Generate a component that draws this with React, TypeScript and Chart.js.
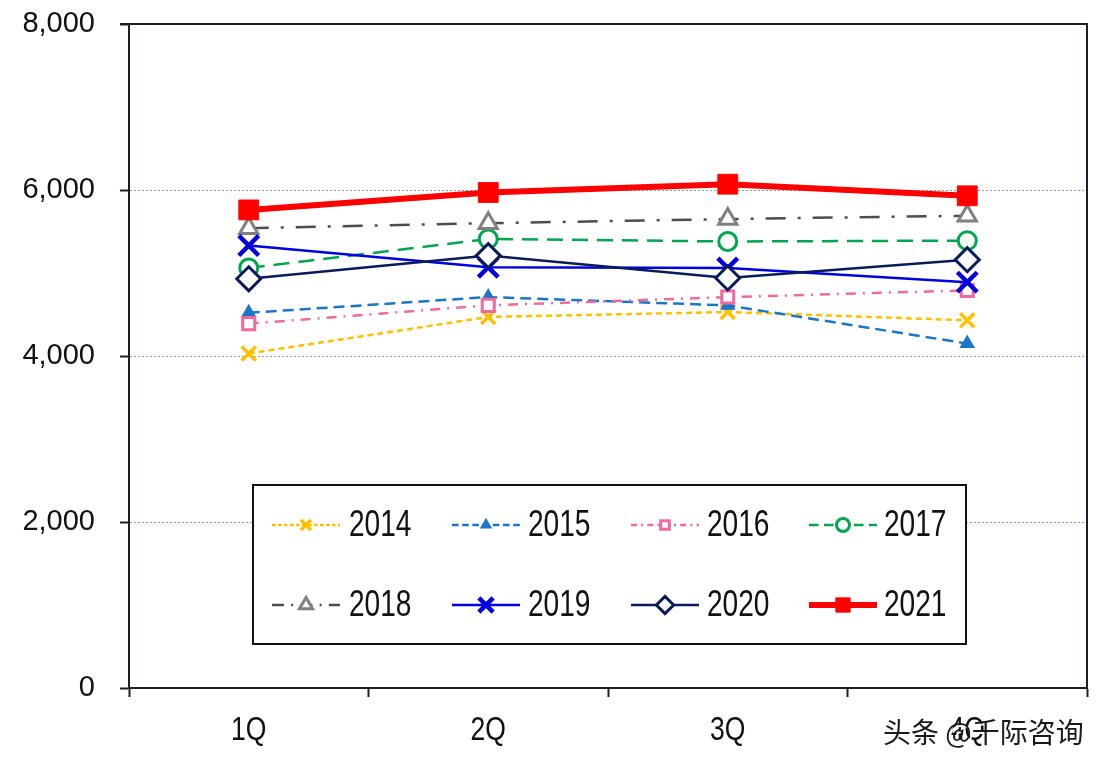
import React, { useEffect, useRef } from 'react';
import { Chart, registerables } from 'chart.js';
import { drawPoint } from 'chart.js/helpers';

Chart.register(...registerables);

const quarters = ['1Q', '2Q', '3Q', '4Q'];
const yMin = 0;
const yMax = 8000;
const yStep = 2000;

const s2014 = [4030, 4470, 4530, 4430];
const s2015 = [4520, 4710, 4610, 4150];
const s2016 = [4390, 4610, 4710, 4790];
const s2017 = [5060, 5410, 5380, 5390];
const s2018 = [5540, 5600, 5650, 5690];
const s2019 = [5330, 5070, 5060, 4890];
const s2020 = [4930, 5210, 4940, 5160];
const s2021 = [5760, 5970, 6070, 5930];

const years = ['2014', '2015', '2016', '2017', '2018', '2019', '2020', '2021'];
const seriesData = [s2014, s2015, s2016, s2017, s2018, s2019, s2020, s2021];

const watermark = '头条 @千际咨询';

type Style = {
  line: string; marker: string; fill: string; width: number; dash: number[];
  point: string; r: number; pw: number;
};

const styles: Style[] = [
  { line: '#FFC000', marker: '#FFC000', fill: '#FFC000', width: 2.5, dash: [6, 4], point: 'crossRot', r: 10, pw: 3.5 },
  { line: '#1B75C9', marker: '#1B75C9', fill: '#1B75C9', width: 2.5, dash: [11, 6], point: 'triangle', r: 6.5, pw: 2.5 },
  { line: '#F0699F', marker: '#F0699F', fill: '#ffffff', width: 2.5, dash: [10, 7, 2, 7], point: 'rect', r: 8.5, pw: 3 },
  { line: '#00A550', marker: '#00A550', fill: '#ffffff', width: 2.5, dash: [16, 9], point: 'circle', r: 9, pw: 3 },
  { line: '#4D4D4D', marker: '#808080', fill: '#ffffff', width: 2.5, dash: [20, 12, 3, 12], point: 'triangle', r: 10.5, pw: 3 },
  { line: '#0000E0', marker: '#0000E0', fill: '#0000E0', width: 2.5, dash: [], point: 'crossRot', r: 14, pw: 4.5 },
  { line: '#0A1B5A', marker: '#0A1B5A', fill: '#ffffff', width: 2.5, dash: [], point: 'rectRot', r: 12, pw: 3 },
  { line: '#FF0000', marker: '#FF0000', fill: '#FF0000', width: 6, dash: [], point: 'rect', r: 14, pw: 1 },
];

const AXIS = '#1e1e28';
const SANS = '"Liberation Sans", Arial, sans-serif';
const NARROW_X = 0.78;

function narrowText(ctx: any, text: string, x: number, y: number, size: number, align: 'left' | 'center') {
  ctx.save();
  ctx.font = `${size}px ${SANS}`;
  ctx.textBaseline = 'middle';
  ctx.textAlign = align;
  ctx.fillStyle = '#111';
  ctx.translate(x, y);
  ctx.scale(NARROW_X, 1);
  ctx.fillText(text, 0, 0);
  ctx.restore();
}

const frame = {
  id: 'frame',
  beforeDatasetsDraw(chart: any) {
    const { ctx, chartArea: a } = chart;
    ctx.save();
    ctx.strokeStyle = AXIS;
    ctx.lineWidth = 2;
    ctx.beginPath();
    ctx.moveTo(a.left - 9, a.top);
    ctx.lineTo(a.right, a.top);
    ctx.lineTo(a.right, a.bottom);
    ctx.stroke();
    ctx.restore();
    const xs = chart.scales.x;
    quarters.forEach((q, i) => {
      narrowText(ctx, q, xs.getPixelForValue(i), a.bottom + 43, 34, 'center');
    });
  },
};

const legendBox = {
  id: 'legendBox',
  afterDatasetsDraw(chart: any) {
    const { ctx } = chart;
    const box = { l: 253, t: 485, r: 966, b: 644 };
    ctx.save();
    ctx.fillStyle = '#ffffff';
    ctx.fillRect(box.l, box.t, box.r - box.l, box.b - box.t);
    ctx.strokeStyle = '#111';
    ctx.lineWidth = 2;
    ctx.strokeRect(box.l, box.t, box.r - box.l, box.b - box.t);
    const colX = [272, 452, 631, 809];
    const textX = [349, 528, 707, 884];
    const rowY = [525, 605];
    const sampleLen = 68;
    years.forEach((y, i) => {
      const s = styles[i];
      const cx = colX[i % 4];
      const cy = rowY[Math.floor(i / 4)];
      ctx.save();
      ctx.strokeStyle = s.line;
      ctx.lineWidth = s.width;
      ctx.setLineDash(s.dash.length ? s.dash.map((d) => Math.max(2, d * 0.6)) : []);
      ctx.beginPath();
      ctx.moveTo(cx, cy);
      ctx.lineTo(cx + sampleLen, cy);
      ctx.stroke();
      ctx.setLineDash([]);
      ctx.strokeStyle = s.marker;
      ctx.fillStyle = s.fill;
      ctx.lineWidth = s.pw;
      drawPoint(ctx, { pointStyle: s.point, radius: s.r * 0.72, rotation: 0, borderWidth: s.pw }, cx + sampleLen / 2, cy);
      ctx.restore();
      narrowText(ctx, y, textX[i % 4], cy + 1, 36, 'left');
    });
    ctx.restore();
  },
  afterDraw(chart: any) {
    const { ctx } = chart;
    ctx.save();
    ctx.font = '28px "Noto Sans CJK SC", sans-serif';
    ctx.textBaseline = 'alphabetic';
    ctx.textAlign = 'left';
    ctx.fillStyle = '#ffffff';
    ctx.fillText(watermark, 885, 745);
    ctx.fillStyle = '#1a1a1a';
    ctx.fillText(watermark, 883, 743);
    ctx.restore();
  },
};

export default function App() {
  const ref = useRef<HTMLCanvasElement | null>(null);
  useEffect(() => {
    document.body.style.margin = '0';
    const canvas = ref.current!;
    const chart = new Chart(canvas, {
      type: 'line',
      data: {
        labels: quarters,
        datasets: years.map((y, i) => ({
          label: y,
          data: seriesData[i],
          borderColor: styles[i].line,
          borderWidth: styles[i].width,
          borderDash: styles[i].dash,
          pointStyle: styles[i].point as any,
          pointRadius: styles[i].r,
          pointHoverRadius: styles[i].r,
          pointBorderColor: styles[i].marker,
          pointBackgroundColor: styles[i].fill,
          pointBorderWidth: styles[i].pw,
          tension: 0,
          fill: false,
          order: 7 - i,
          clip: false as any,
        })),
      },
      options: {
        animation: false,
        responsive: false,
        events: [],
        layout: { padding: { left: 0, top: 24, right: 21, bottom: 0 } },
        plugins: { legend: { display: false }, tooltip: { enabled: false } },
        scales: {
          x: {
            type: 'category',
            offset: true,
            afterFit: (s: any) => { s.height = 80; s.paddingLeft = 0; s.paddingRight = 0; },
            grid: {
              offset: true,
              drawOnChartArea: false,
              drawTicks: true,
              tickLength: 9,
              tickColor: AXIS,
              tickWidth: 2,
              color: AXIS,
            },
            border: { color: AXIS, width: 2 },
            ticks: {
              color: 'rgba(0,0,0,0)',
              padding: 16,
              font: { family: SANS, size: 34 },
              maxRotation: 0,
            },
          },
          y: {
            min: yMin,
            max: yMax,
            afterFit: (s: any) => { s.width = 129; s.paddingTop = 0; s.paddingBottom = 0; },
            grid: {
              color: (c: any) => (c.tick && (c.tick.value === yMin || c.tick.value === yMax) ? 'rgba(0,0,0,0)' : '#9a9a9a'),
              lineWidth: 1,
              drawTicks: true,
              tickLength: 9,
              tickColor: AXIS,
              tickWidth: 2,
            },
            border: { color: AXIS, width: 2, dash: [2, 2] },
            ticks: {
              stepSize: yStep,
              color: '#111',
              padding: 25,
              font: { family: SANS, size: 29 },
              callback: (v: any) => Number(v).toLocaleString('en-US'),
            },
          },
        },
      },
      plugins: [frame, legendBox],
    });
    return () => chart.destroy();
  }, []);
  return (
    <div style={{ position: 'absolute', left: 0, top: 0, width: 1108, height: 768, background: '#fff' }}>
      <canvas ref={ref} width={1108} height={768} />
    </div>
  );
}
